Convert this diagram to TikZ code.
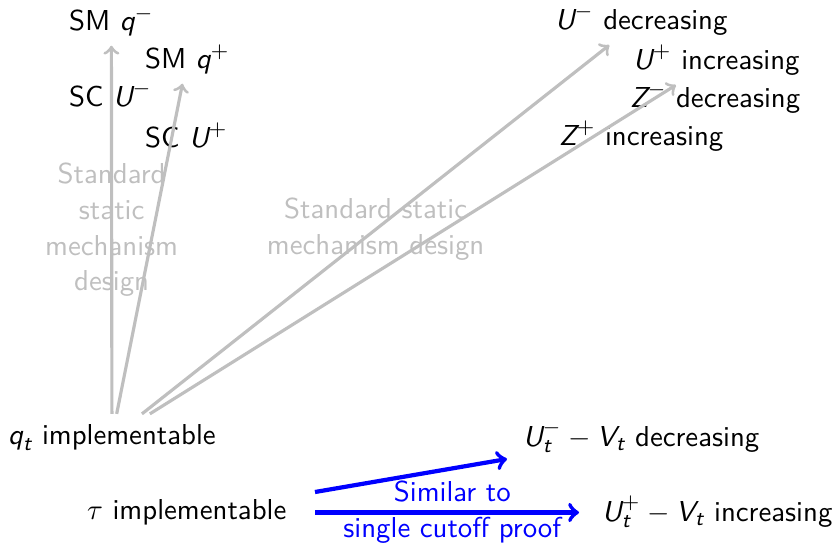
\documentclass[tikz,border=0pt]{standalone}
\usepackage{amsmath}
\newcommand\Sv[1]{\text{\sffamily\slshape #1}}
\begin{document}
\begin{tikzpicture}[x=0.38pt,y=-0.38pt,
  every node/.style={font=\sffamily\fontsize{10.95}{13.6}\selectfont, inner sep=3.65pt},
  lbl/.style={anchor=base west},
  garrow/.style={->, draw=lightgray, very thick},
  barrow/.style={->, draw=blue, line width=1.6pt},
  glabel/.style={text=lightgray, align=center},
  blabel/.style={text=blue, align=center}]
\useasboundingbox (0,0) rectangle (838,544);
% top left
\node[lbl] (smqm) at (59,30) {SM $\Sv{q}^{-}$};
\node[lbl] (smqp) at (135,68) {SM $\Sv{q}^{+}$};
\node[lbl] (scum) at (59,106) {SC $\Sv{U}^{-}$};
\node[lbl] (scup) at (135,147) {SC $\Sv{U}^{+}$};
% top right
\node[lbl] (um) at (545,29) {$\Sv{U}^{-}$ decreasing};
\node[lbl] (up) at (623,69) {$\Sv{U}^{+}$ increasing};
\node[lbl] (zm) at (620,107) {$\Sv{Z}^{-}$ decreasing};
\node[lbl] (zp) at (549,145) {$\Sv{Z}^{+}$ increasing};
% bottom
\node[lbl] (qt) at (-2,444) {$\Sv{q}_{\Sv{t}}$ implementable};
\node[lbl] (tau) at (77,519) {$\tau$ implementable};
\node[lbl] (utm) at (513,446) {$\Sv{U}_{\Sv{t}}^{-} - \Sv{V}_{\Sv{t}}$ decreasing};
\node[lbl] (utp) at (592,521) {$\Sv{U}_{\Sv{t}}^{+} - \Sv{V}_{\Sv{t}}$ increasing};
% gray arrows
\draw[garrow] (qt) -- node[glabel]{Standard\\static\\mechanism\\design} (smqm);
\draw[garrow] (qt) -- (smqp);
\draw[garrow] (qt) -- node[glabel]{Standard static\\mechanism design} (um);
\draw[garrow] (qt) -- (up);
% blue arrows
\coordinate (b1s) at (315,492);
\coordinate (b1e) at (507,459);
\coordinate (b2s) at (315,512.5);
\coordinate (b2e) at (579,512.5);
\draw[barrow] (b1s) -- (b1e);
\draw[barrow] (b2s) -- node[blabel,pos=0.52]{Similar to\\single cutoff proof} (b2e);
\end{tikzpicture}
\end{document}
